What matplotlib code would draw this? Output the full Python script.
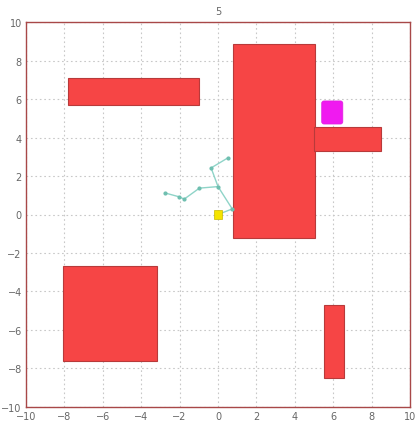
import matplotlib
matplotlib.use("Agg")
import matplotlib.pyplot as plt
from matplotlib.patches import Rectangle, FancyBboxPatch

# obstacles as (x_min, y_min, width, height)
obstacle_x = [-7.8, 0.8, 5.0, -8.1, 5.5]
obstacle_y = [5.7, -1.2, 3.3, -7.6, -8.5]
obstacle_w = [6.8, 4.25, 3.5, 4.9, 1.05]
obstacle_h = [1.4, 10.05, 1.25, 4.9, 3.8]

goal_x, goal_y, goal_w, goal_h = 5.4, 4.7, 1.1, 1.2
start_x, start_y = 0.0, 0.0

# search tree nodes and edges (parent index -> child index)
node_x = [0.0, 0.74, 0.0, -0.97, -1.76, -2.03, -2.76, -0.36, 0.51]
node_y = [0.0, 0.29, 1.45, 1.37, 0.80, 0.92, 1.12, 2.42, 2.94]
edges = [(0, 1), (1, 2), (2, 3), (3, 4), (4, 5), (5, 6), (2, 7), (7, 8)]

ticks = list(range(-10, 11, 2))

fig = plt.figure(figsize=(4.15, 4.31), dpi=100)
ax = fig.add_axes([0.0627, 0.0534, 0.9253, 0.8932])

for x, y, w, h in zip(obstacle_x, obstacle_y, obstacle_w, obstacle_h):
    ax.add_patch(Rectangle((x, y), w, h, facecolor="#f64545",
                           edgecolor="#b83a3a", linewidth=0.8, zorder=2))

ax.add_patch(FancyBboxPatch((goal_x + 0.12, goal_y + 0.12), goal_w - 0.24, goal_h - 0.24,
                            boxstyle="round,pad=0.12", facecolor="#f01af0",
                            edgecolor="#e020e0", linewidth=0.5, zorder=3))

for a, b in edges:
    ax.plot([node_x[a], node_x[b]], [node_y[a], node_y[b]], color="#8fd4c8",
            linewidth=1.0, zorder=3)
ax.plot(node_x[1:], node_y[1:], linestyle="none", marker="o", markersize=2,
        color="#6fbfb0", zorder=4)

ax.add_patch(Rectangle((start_x - 0.22, start_y - 0.22), 0.44, 0.44,
                       facecolor="#f5e400", edgecolor="#c8b800", linewidth=0.5, zorder=5))

ax.set_xlim(-10, 10)
ax.set_ylim(-10, 10)
ax.set_xticks(ticks)
ax.set_yticks(ticks)
ax.grid(True, color="#c8c8c8", linestyle=(0, (1.5, 2.5)), linewidth=0.8, zorder=0)
ax.set_axisbelow(True)
ax.tick_params(length=0, labelsize=7, labelcolor="#666666", pad=3)
for spine in ax.spines.values():
    spine.set_color("#a84848")
    spine.set_linewidth(1.0)
ax.set_title("5", fontsize=7, color="#666666", pad=6)

fig.savefig("out.png", dpi=100)
